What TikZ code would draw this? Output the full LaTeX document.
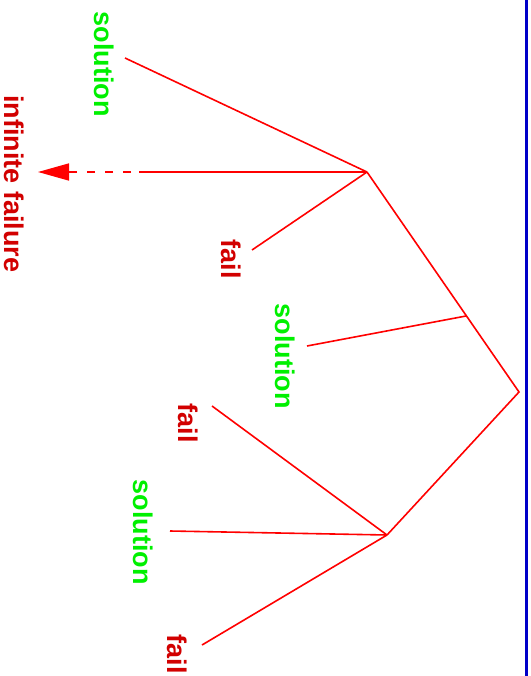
\documentclass[tikz,border=0pt]{standalone}
\usepackage{fontspec}
\setmainfont{Liberation Sans}
\usetikzlibrary{arrows.meta}
\definecolor{edge}{RGB}{255,0,0}
\definecolor{solgreen}{RGB}{0,240,0}
\definecolor{failred}{RGB}{210,0,0}
\definecolor{rule}{RGB}{0,0,200}
\begin{document}
\begin{tikzpicture}[x=1pt,y=-1pt,
  branch/.style={draw=edge,line width=1.6pt},
  lbl/.style={rotate=-90,font=\fontsize{27}{27}\selectfont\bfseries,inner sep=0pt},
  sol/.style={lbl,text=solgreen},
  bad/.style={lbl,text=failred}]
  \useasboundingbox (0,0) rectangle (530,676);
  \fill[white] (0,0) rectangle (530,676);
  % right margin rule
  \draw[rule,line width=3.5pt] (526.5,0) -- (526.5,676);

  % tree vertices
  \coordinate (root) at (519,392);
  \coordinate (a) at (367,172);
  \coordinate (b) at (466,316);
  \coordinate (c) at (387,535);
  % leaf ends
  \coordinate (a1) at (125,58);
  \coordinate (a2) at (252,250);
  \coordinate (a3) at (139,172);
  \coordinate (a4) at (38,172);
  \coordinate (b1) at (307,346);
  \coordinate (c1) at (212,406);
  \coordinate (c2) at (170,531);
  \coordinate (c3) at (202,645);

  % labels
  \node[sol] (ls1) at (104,64) {solution};
  \node[bad] (linf) at (14,184) {infinite failure};
  \node[bad] (lf1) at (231,259) {fail};
  \node[sol] (ls2) at (285,356) {solution};
  \node[bad] (lf2) at (188,423) {fail};
  \node[sol] (ls3) at (143,532) {solution};
  \node[bad] (lf3) at (177,654) {fail};

  % branches
  \draw[branch,line join=miter] (c) -- (root) -- (a);
  \draw[branch] (b) -- (b1);
  \draw[branch] (a) -- (a1);
  \draw[branch] (a) -- (a2);
  \draw[branch] (a) -- (a3);
  \draw[branch,dash pattern=on 8pt off 10pt,dash phase=-8pt,-{Triangle[length=31pt,width=17pt]}] (a3) -- (a4);
  \draw[branch] (c) -- (c1);
  \draw[branch] (c) -- (c2);
  \draw[branch] (c) -- (c3);
\end{tikzpicture}
\end{document}
